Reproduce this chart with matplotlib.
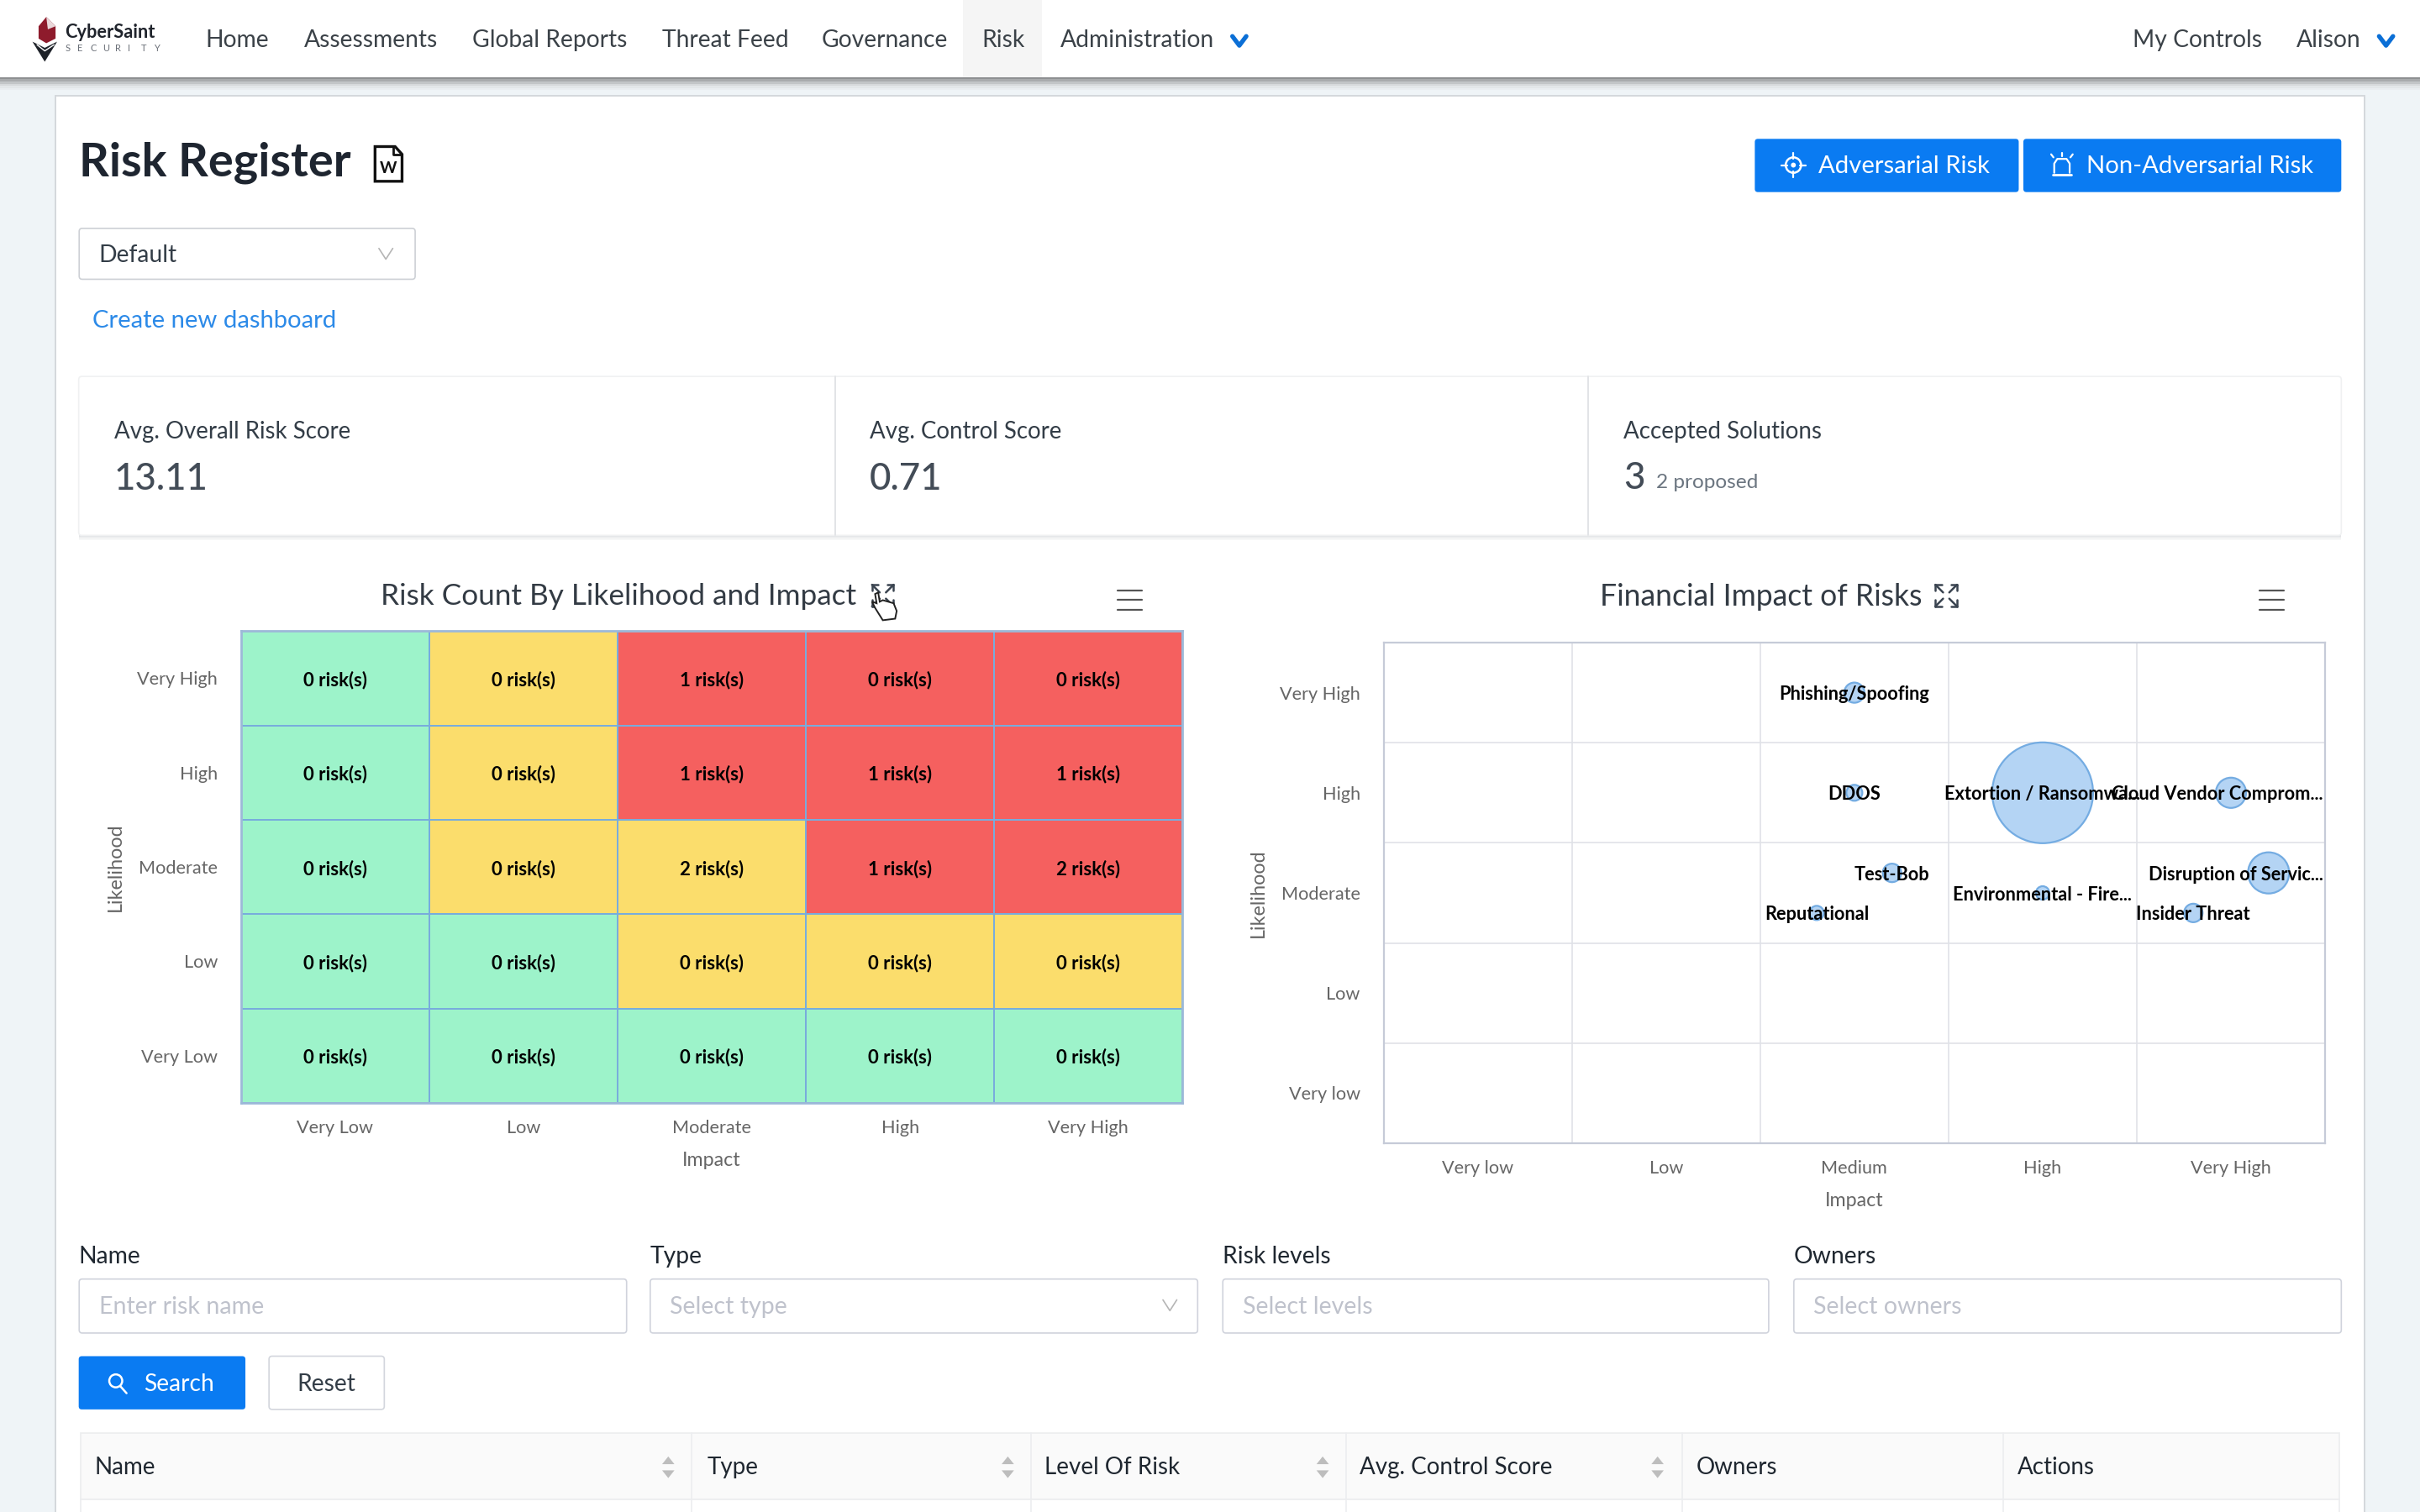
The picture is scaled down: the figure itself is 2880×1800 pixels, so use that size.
import matplotlib
matplotlib.use('Agg')
import matplotlib.pyplot as plt
from matplotlib.colors import ListedColormap
from matplotlib.patches import Rectangle, FancyBboxPatch, Polygon, Circle

plt.rcParams['font.family'] = ['Lato', 'DejaVu Sans']

# heatmap data (rows go bottom to top)
heat_impact = ['Very Low', 'Low', 'Moderate', 'High', 'Very High']
heat_likelihood = ['Very Low', 'Low', 'Moderate', 'High', 'Very High']
risk_counts = [
    [0, 0, 0, 0, 0],
    [0, 0, 0, 0, 0],
    [0, 0, 2, 1, 2],
    [0, 0, 1, 1, 1],
    [0, 0, 1, 0, 0],
]
risk_levels = [
    [0, 0, 0, 0, 0],
    [0, 0, 1, 1, 1],
    [0, 1, 1, 2, 2],
    [0, 1, 2, 2, 2],
    [0, 1, 2, 2, 2],
]

# bubble chart data
bubble_impact = ['Very low', 'Low', 'Medium', 'High', 'Very High']
bubble_likelihood = ['Very low', 'Low', 'Moderate', 'High', 'Very High']
risk_names = ['Phishing/Spoofing', 'DDOS', 'Extortion / Ransomwa...', 'Cloud Vendor Comprom...',
              'Disruption of Servic...', 'Test-Bob', 'Environmental - Fire...', 'Reputational', 'Insider Threat']
risk_x = [2.5, 2.5, 3.5, 4.5, 4.7, 2.7, 3.5, 2.3, 4.3]
risk_y = [4.5, 3.5, 3.5, 3.5, 2.7, 2.7, 2.5, 2.3, 2.3]
risk_size = [24, 19, 120, 36, 49, 22, 16, 17, 22]

# page text
nav_left = ['Home', 'Assessments', 'Global Reports', 'Threat Feed', 'Governance', 'Risk', 'Administration']
nav_left_x = [133, 197, 306, 429, 532, 636, 687]
filter_labels = ['Name', 'Type', 'Risk levels', 'Owners']
filter_hints = ['Enter risk name', 'Select type', 'Select levels', 'Select owners']
filter_x = [51, 421, 792, 1162]
filter_right = [406, 776, 1146, 1517]
table_cols = ['Name', 'Type', 'Level Of Risk', 'Avg. Control Score', 'Owners', 'Actions']
table_x = [61, 458, 677, 881, 1099, 1307]
table_lines = [448, 668, 872, 1090, 1298]
table_sort = [433, 653, 857, 1074]

W, H = 1568, 980
fig = plt.figure(figsize=(14.4, 9), dpi=200, facecolor='#EFF4F7')

# full page axes, units are px of a 1568 wide page
ui = fig.add_axes([0, 0, 1, 1], zorder=0)
ui.set_xlim(0, W)
ui.set_ylim(H, 0)
ui.axis('off')


def rect(x0, y0, x1, y1, fc='white', ec='none', lw=0.6, z=2):
    ui.add_patch(Rectangle((x0, y0), x1 - x0, y1 - y0, fc=fc, ec=ec, lw=lw, zorder=z))


def rbox(x0, y0, x1, y1, fc='white', ec='#D3D6DD', lw=0.6, z=3):
    ui.add_patch(FancyBboxPatch((x0, y0), x1 - x0, y1 - y0, boxstyle='round,pad=0,rounding_size=2',
                                fc=fc, ec=ec, lw=lw, zorder=z))


def txt(x, y, s, size=10.2, color='#333D47', ha='left', **kw):
    ui.text(x, y + 1.2, s, fontsize=size, color=color, ha=ha, va='center', zorder=6, **kw)


def line(xs, ys, color='#333333', lw=0.8, **kw):
    ui.plot(xs, ys, color=color, lw=lw, zorder=6, solid_capstyle='round', **kw)


def chevron(x, y, w=4.5, h=3.5, color='#B5B5B5', lw=0.6):
    line([x - w, x, x + w], [y - h, y + h, y - h], color=color, lw=lw)


def expand_icon(x, y):
    s = 7
    for dx, dy in [(-1, -1), (1, -1), (-1, 1), (1, 1)]:
        line([x + dx * s, x + dx * s], [y + dy * s, y + dy * 3], color='#3A4450', lw=0.9)
        line([x + dx * s, x + dx * 3], [y + dy * s, y + dy * s], color='#3A4450', lw=0.9)
        line([x + dx * s, x + dx * 2], [y + dy * s, y + dy * 2], color='#3A4450', lw=0.9)


def burger(x, y):
    for dy in [-6, 0, 6]:
        line([x - 8, x + 8], [y + dy, y + dy], color='#555555', lw=0.8)


# navbar with shadow
for i, c in enumerate(['#8E9092', '#A9ABAD', '#C2C5C7', '#D6D9DB', '#E3E7E9', '#EAEEF1']):
    rect(0, 50 + i * 1.4, W, 51.4 + i * 1.4, fc=c, z=1)
rect(0, 0, W, 50, z=4)
rect(624, 0, 675, 50, fc='#F5F5F5', z=4)
for x, s in zip(nav_left_x, nav_left):
    txt(x, 25, s, color='#3B4248')
txt(1382, 25, 'My Controls', color='#3B4248')
txt(1488, 25, 'Alison', color='#3B4248')
chevron(803, 26.5, w=4.5, h=3, color='#0B6FD6', lw=1.9)
chevron(1546, 26.5, w=4.5, h=3, color='#0B6FD6', lw=1.9)

# logo
ui.add_patch(Polygon([(30, 11), (36, 17), (36, 25), (30, 28), (25, 25), (25, 17)], fc='#8E1B2C', ec='none', zorder=6))
ui.add_patch(Polygon([(30, 11), (36, 17), (31, 19)], fc='#E9D8DA', ec='none', zorder=6))
ui.add_patch(Polygon([(21, 27), (29, 31), (37, 27), (29, 40)], fc='#1E2229', ec='none', zorder=6))
line([24, 29, 35], [29, 33, 29], color='white', lw=0.5)
txt(42, 20, 'CyberSaint', size=7.9, color='#20242C', weight='bold')
for i, ch in enumerate('SECURITY'):
    txt(42 + i * 8.2, 30, ch, size=4, color='#6A6F77')

# main card
rect(36, 62, 1532, 990, ec='#D4D8DC', lw=0.7, z=1)
txt(51, 104.5, 'Risk Register', size=20.1, color='#1E2530', weight='bold')

# word icon
ui.add_patch(Polygon([(243, 95), (256, 95), (260.5, 100), (260.5, 117.5), (243, 117.5)], fc='white', ec='#111111', lw=1.2, zorder=6))
line([255, 255, 260], [95, 100, 100], color='#111111', lw=1.0)
ui.text(251.8, 109, 'W', fontsize=7, color='#111111', ha='center', va='center', zorder=6, weight='bold')

# blue buttons
rbox(1137, 90, 1308, 124.5, fc='#0A7BF2', ec='none')
rbox(1311, 90, 1517, 124.5, fc='#0A7BF2', ec='none')
txt(1178, 106.5, 'Adversarial Risk', color='white', size=10.55)
txt(1352, 106.5, 'Non-Adversarial Risk', color='white', size=10.55)
ui.add_patch(Circle((1162, 107), 5, fc='none', ec='white', lw=0.9, zorder=6))
ui.add_patch(Circle((1162, 107), 1.6, fc='white', ec='none', zorder=6))
line([1162, 1162], [99, 103], color='white')
line([1162, 1162], [111, 115], color='white')
line([1154, 1158], [107, 107], color='white')
line([1166, 1170], [107, 107], color='white')
line([1331, 1331, 1333, 1339, 1341, 1341], [112, 106, 103, 103, 106, 112], color='white')
line([1330, 1342], [113.5, 113.5], color='white', lw=1)
line([1336, 1336], [99, 101], color='white')
line([1329, 1330.5], [100, 102], color='white')
line([1343, 1341.5], [100, 102], color='white')

# dashboard select
rbox(51.3, 148, 269, 181, ec='#CDD0D5')
txt(64, 164.5, 'Default', color='#333D47')
chevron(250, 164.5)
txt(60, 207, 'Create new dashboard', color='#2C8AE8', size=10.55)

# kpi cards
for i, c in enumerate(['#E2E4E6', '#EEEFF0', '#F6F7F7']):
    rect(51, 347 + i, 1517, 348 + i, fc=c, z=1)
rbox(51, 244, 1517, 347, ec='#F0F1F2')
line([541, 541], [244, 347], color='#E2E4E7', lw=0.7)
line([1029, 1029], [244, 347], color='#E2E4E7', lw=0.7)
txt(74, 278.5, 'Avg. Overall Risk Score', color='#333D47', size=9.95)
txt(74, 309.5, '13.11', size=15.8, color='#434C57', weight='medium')
txt(563.5, 278.5, 'Avg. Control Score', color='#333D47', size=9.95)
txt(563.5, 309.5, '0.71', size=15.8, color='#434C57', weight='medium')
txt(1052, 278.5, 'Accepted Solutions', color='#333D47', size=10)
txt(1052, 309, '3', size=15.8, color='#434C57', weight='medium')
txt(1073, 311.5, '2 proposed', size=8.8, color='#6B7580')

# chart titles and icons
txt(400.5, 385.5, 'Risk Count By Likelihood and Impact', size=12.65, color='#333B44', ha='center')
txt(1141, 385.5, 'Financial Impact of Risks', size=12.8, color='#333B44', ha='center')
expand_icon(572, 386)
expand_icon(1261, 386)
burger(732, 389)
burger(1472, 389)

# hand cursor
ui.add_patch(Polygon([(567, 385), (569, 384), (570, 390), (572, 389), (579, 391), (581, 396),
                      (580, 401), (572, 402), (567, 394), (565, 390), (568, 391)],
                     fc='white', ec='#222222', lw=0.7, zorder=7))
for fx in [572.5, 575, 577.5]:
    line([fx, fx], [394, 399], color='#222222', lw=0.4)

# filters
for x0, x1, lab, hint in zip(filter_x, filter_right, filter_labels, filter_hints):
    txt(x0, 813.5, lab, color='#1F2730', size=10.2)
    rbox(x0 + 0.3, 829, x1, 864, ec='#D0D3DC')
    txt(x0 + 13, 846, hint, color='#BFC2CC', size=10.3)
chevron(758, 846)

rbox(51, 879, 159, 913.5, fc='#0A7BF2', ec='none')
txt(93, 896, 'Search', color='white')
ui.add_patch(Circle((75, 895), 4.2, fc='none', ec='white', lw=0.9, zorder=6))
line([78, 82], [898.5, 903], color='white', lw=0.9)
rbox(174.3, 879, 249, 913.5)
txt(211.5, 896, 'Reset', color='#333D47', ha='center')

# table header
rect(52, 929, 1516, 972, fc='#FAFAFA', ec='#ECEDEF', z=2)
rect(52, 972, 1516, 990, fc='white', ec='#ECEDEF', z=2)
for x in table_lines:
    line([x, x], [929, 985], color='#ECEDF0', lw=0.6)
for x, s in zip(table_x, table_cols):
    txt(x, 950, s, color='#1F2730', size=10)
for x in table_sort:
    ui.add_patch(Polygon([(x - 4, 949), (x + 4, 949), (x, 944)], fc='#BDBDBD', ec='none', zorder=6))
    ui.add_patch(Polygon([(x - 4, 953), (x + 4, 953), (x, 958)], fc='#BDBDBD', ec='none', zorder=6))


def chart_axes(x0, y0, x1, y1):
    return fig.add_axes([x0 / W, 1 - y1 / H, (x1 - x0) / W, (y1 - y0) / H], zorder=2, facecolor='white')


def label_axes(ax, xnames, ynames, ypad):
    ax.set_xticks([i + 0.5 for i in range(5)], xnames)
    ax.set_yticks([i + 0.5 for i in range(5)], ynames)
    ax.tick_params(length=0, labelsize=7.8, labelcolor='#666666', pad=7.2)
    ax.tick_params(axis='y', pad=10)
    ax.set_xlabel('Impact', fontsize=8.4, color='#666666', labelpad=6.6)
    ax.set_ylabel('Likelihood', fontsize=8.4, color='#666666', labelpad=ypad)


# left chart
ax1 = chart_axes(156.2, 409, 766.2, 714.8)
ax1.pcolormesh(risk_levels, cmap=ListedColormap(['#9DF3CA', '#FBDD6C', '#F5605F']),
               edgecolors='#78ACDC', linewidth=0.6, vmin=0, vmax=2)
for row in range(5):
    for col in range(5):
        ax1.text(col + 0.5, row + 0.5, f'{risk_counts[row][col]} risk(s)', ha='center', va='center_baseline',
                 fontsize=8, weight='bold', color='black')
label_axes(ax1, heat_impact, heat_likelihood, 5.4)
for sp in ax1.spines.values():
    sp.set_color('#9DB9D8')
    sp.set_linewidth(1.0)

# right chart
ax2 = chart_axes(896.5, 416.5, 1506.5, 741)
ax2.set_xlim(0, 5)
ax2.set_ylim(0, 5)
for v in range(1, 5):
    ax2.axvline(v, color='#E0E2E7', lw=0.6, zorder=1)
    ax2.axhline(v, color='#E0E2E7', lw=0.6, zorder=1)
sizes = [(d * 72 / 200) ** 2 for d in risk_size]
ax2.scatter(risk_x, risk_y, s=sizes, facecolor='#B4D4F4', edgecolor='#74ACE2', linewidth=0.8, zorder=2, clip_on=False)
for name, x, y in zip(risk_names, risk_x, risk_y):
    if x > 4.4 and name.endswith('...'):
        ax2.text(4.99, y, name, ha='right', va='center_baseline', fontsize=7.85, weight='bold', color='black', zorder=3)
    else:
        ax2.text(x, y, name, ha='center', va='center_baseline', fontsize=7.85, weight='bold', color='black', zorder=3)
label_axes(ax2, bubble_impact, bubble_likelihood, 5.4)
for sp in ax2.spines.values():
    sp.set_color('#C6CBD8')
    sp.set_linewidth(0.8)

fig.savefig('out.png', dpi=200)
